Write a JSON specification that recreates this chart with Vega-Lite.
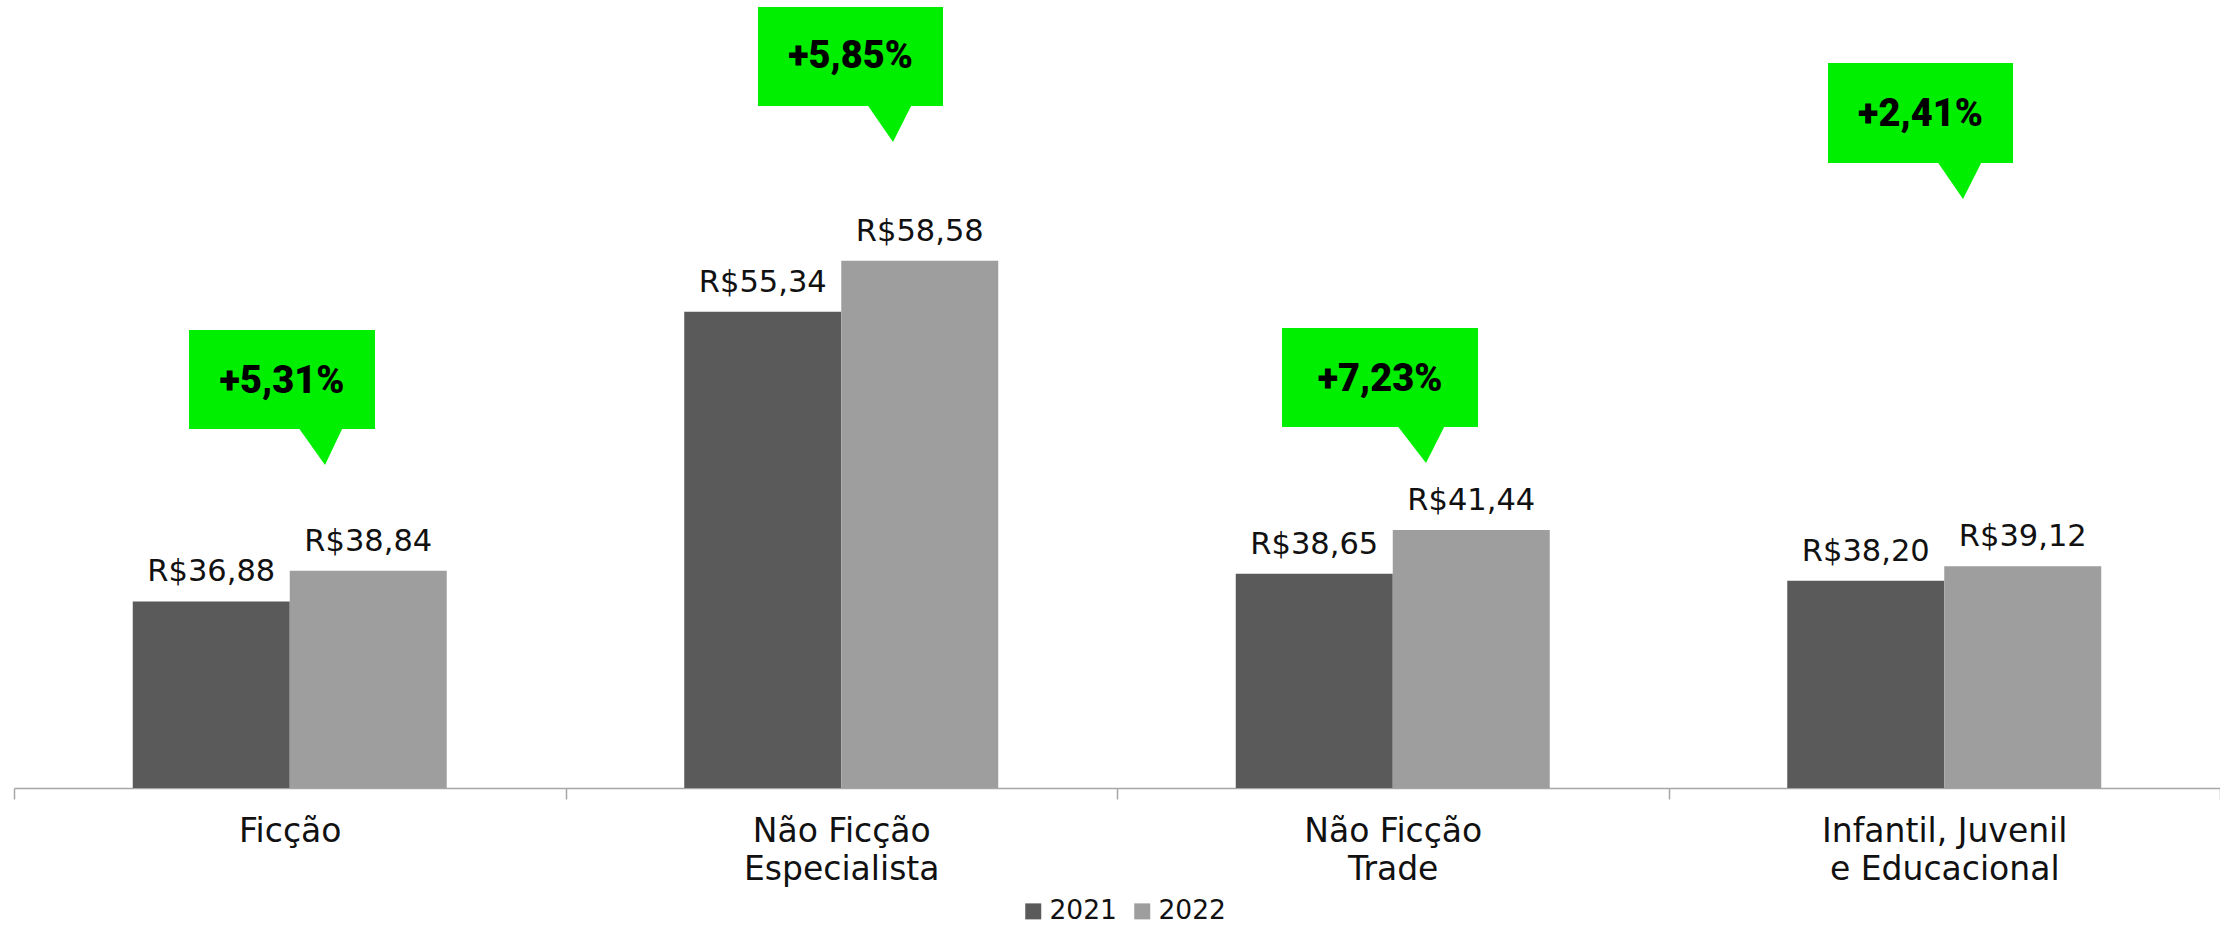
{
  "$schema": "https://vega.github.io/schema/vega-lite/v6.json",
  "width": 2206,
  "height": 785,
  "autosize": {"type": "none"},
  "padding": {"left": 14, "top": 3, "right": 0, "bottom": 140},
  "background": "white",
  "config": {"view": {"stroke": null}},
  "datasets": {
    "precos": [
      {"categoria": "Ficção", "ano": "2021", "preco": 36.88, "rotulo": "R$36,88"},
      {"categoria": "Ficção", "ano": "2022", "preco": 38.84, "rotulo": "R$38,84"},
      {"categoria": "Não Ficção Especialista", "ano": "2021", "preco": 55.34, "rotulo": "R$55,34"},
      {"categoria": "Não Ficção Especialista", "ano": "2022", "preco": 58.58, "rotulo": "R$58,58"},
      {"categoria": "Não Ficção Trade", "ano": "2021", "preco": 38.65, "rotulo": "R$38,65"},
      {"categoria": "Não Ficção Trade", "ano": "2022", "preco": 41.44, "rotulo": "R$41,44"},
      {"categoria": "Infantil, Juvenil e Educacional", "ano": "2021", "preco": 38.20, "rotulo": "R$38,20"},
      {"categoria": "Infantil, Juvenil e Educacional", "ano": "2022", "preco": 39.12, "rotulo": "R$39,12"}
    ],
    "caixas": [
      {"id": "a", "x1": 0.3173, "x2": 0.6546, "ytop": 54.17, "ybot": 47.87, "cx": 0.486, "cy": 50.16, "texto": "+5,31%"},
      {"id": "b", "x1": 1.349, "x2": 1.6845, "ytop": 74.75, "ybot": 68.44, "cx": 1.517, "cy": 70.86, "texto": "+5,85%"},
      {"id": "c", "x1": 2.2992, "x2": 2.6546, "ytop": 54.30, "ybot": 47.99, "cx": 2.477, "cy": 50.29, "texto": "+7,23%"},
      {"id": "d", "x1": 3.2892, "x2": 3.6247, "ytop": 71.18, "ybot": 64.81, "cx": 3.457, "cy": 67.17, "texto": "+2,41%"}
    ],
    "pontas": [
      {"id": "a", "tx": 0.515, "ty": 48.0, "tb": 48.0},
      {"id": "a", "tx": 0.5639, "ty": 45.57, "tb": 48.0},
      {"id": "a", "tx": 0.5966, "ty": 48.0, "tb": 48.0},
      {"id": "b", "tx": 1.5467, "ty": 68.55, "tb": 68.55},
      {"id": "b", "tx": 1.5938, "ty": 66.15, "tb": 68.55},
      {"id": "b", "tx": 1.6283, "ty": 68.55, "tb": 68.55},
      {"id": "c", "tx": 2.5077, "ty": 48.1, "tb": 48.1},
      {"id": "c", "tx": 2.5603, "ty": 45.70, "tb": 48.1},
      {"id": "c", "tx": 2.5948, "ty": 48.1, "tb": 48.1},
      {"id": "d", "tx": 3.4869, "ty": 64.92, "tb": 64.92},
      {"id": "d", "tx": 3.534, "ty": 62.52, "tb": 64.92},
      {"id": "d", "tx": 3.5685, "ty": 64.92, "tb": 64.92}
    ]
  },
  "layer": [
    {
      "data": {"name": "precos"},
      "encoding": {
        "x": {
          "field": "categoria", "type": "nominal", "sort": null,
          "scale": {"paddingInner": 0, "paddingOuter": 0},
          "axis": {
            "title": null, "grid": false, "labelAngle": 0,
            "domainColor": "#a6a6a6", "domainWidth": 1.5,
            "tickColor": "#a6a6a6", "tickWidth": 1.5, "tickSize": 11, "tickBand": "extent",
            "labelFont": "DejaVu Sans", "labelFontSize": 33, "labelColor": "#111111",
            "labelBaseline": "alphabetic", "labelPadding": 42, "labelLineHeight": 38,
            "labelOverlap": false, "labelBound": false, "labelFlush": false, "labelLimit": 0,
            "labelExpr": "datum.value == 'Não Ficção Especialista' ? ['Não Ficção', 'Especialista'] : datum.value == 'Não Ficção Trade' ? ['Não Ficção', 'Trade'] : datum.value == 'Infantil, Juvenil e Educacional' ? ['Infantil, Juvenil', 'e Educacional'] : datum.label"
          }
        },
        "xOffset": {"field": "ano", "type": "nominal", "scale": {"paddingInner": 0, "paddingOuter": 0.7564}},
        "y": {"field": "preco", "type": "quantitative", "scale": {"domain": [25, 75], "zero": false, "nice": false}, "axis": null}
      },
      "layer": [
        {
          "mark": {"type": "bar"},
          "encoding": {
            "y2": {"datum": 25},
            "color": {
              "field": "ano", "type": "nominal",
              "scale": {"domain": ["2021", "2022"], "range": ["#5a5a5a", "#9e9e9e"]},
              "legend": {
                "orient": "none", "legendX": 1006, "legendY": 895, "direction": "horizontal",
                "title": null, "symbolType": "square", "symbolSize": 256, "symbolStrokeWidth": 0,
                "labelFont": "DejaVu Sans", "labelFontSize": 26.5, "labelColor": "#111111",
                "columnPadding": 12, "labelOffset": 3
              }
            }
          }
        },
        {
          "mark": {"type": "text", "baseline": "alphabetic", "dy": -20, "font": "DejaVu Sans", "fontSize": 30.5, "color": "#111111"},
          "encoding": {"text": {"field": "rotulo"}}
        }
      ]
    },
    {
      "data": {"name": "caixas"},
      "layer": [
        {
          "mark": {"type": "rect", "color": "#00ee00"},
          "encoding": {
            "x": {"field": "x1", "type": "quantitative", "scale": {"domain": [0, 4], "nice": false, "zero": false}, "axis": null},
            "x2": {"field": "x2"},
            "y": {"field": "ytop", "type": "quantitative", "scale": {"domain": [25, 75], "zero": false, "nice": false}, "axis": null},
            "y2": {"field": "ybot"}
          }
        },
        {
          "mark": {"type": "text", "baseline": "alphabetic", "font": "Roboto", "fontWeight": 900, "fontSize": 38, "color": "#000000"},
          "encoding": {
            "x": {"field": "cx", "type": "quantitative", "scale": {"domain": [0, 4], "nice": false, "zero": false}, "axis": null},
            "y": {"field": "cy", "type": "quantitative", "scale": {"domain": [25, 75], "zero": false, "nice": false}, "axis": null},
            "text": {"field": "texto"}
          }
        }
      ]
    },
    {
      "data": {"name": "pontas"},
      "mark": {"type": "area", "color": "#00ee00"},
      "encoding": {
        "x": {"field": "tx", "type": "quantitative", "scale": {"domain": [0, 4], "nice": false, "zero": false}, "axis": null},
        "y": {"field": "ty", "type": "quantitative", "scale": {"domain": [25, 75], "zero": false, "nice": false}, "axis": null},
        "y2": {"field": "tb"},
        "detail": {"field": "id"}
      }
    }
  ],
  "resolve": {"scale": {"x": "independent"}, "axis": {"x": "independent"}}
}
